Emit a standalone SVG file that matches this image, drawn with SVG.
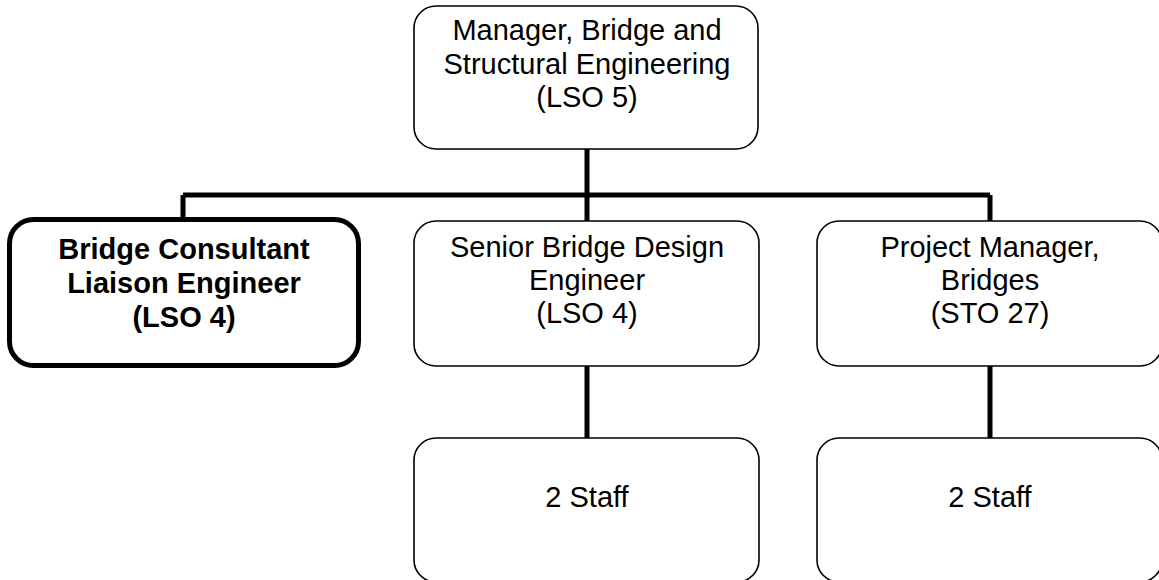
<svg xmlns="http://www.w3.org/2000/svg" width="1159" height="580" viewBox="0 0 1159 580">
<style>
.box{fill:#fff;stroke:#000;stroke-width:1.6}
.bold-box{fill:#fff;stroke:#000;stroke-width:5}
.t{font-family:"Liberation Sans",Arial,sans-serif;font-size:29px;fill:#000;text-anchor:middle}
.b{font-weight:bold}
.c{fill:none;stroke:#000;stroke-width:5}
</style>
<rect width="1159" height="580" fill="#fff"/>
<g id="connectors">
<path class="c" d="M587 149 V195 M183 195 H990 M183 195 V220 M587 195 V221 M990 195 V221"/>
<path class="c" d="M587 366 V438 M990 366 V438"/>
</g>
<g id="manager">
<rect class="box" x="414" y="6" width="344" height="143" rx="22"/>
<text class="t" x="587" y="40">Manager, Bridge and</text>
<text class="t" x="587" y="74">Structural Engineering</text>
<text class="t" x="587" y="107">(LSO 5)</text>
</g>
<g id="liaison">
<rect class="bold-box" x="9.5" y="219.5" width="349" height="146" rx="24"/>
<text class="t b" x="184" y="259">Bridge Consultant</text>
<text class="t b" x="184" y="293">Liaison Engineer</text>
<text class="t b" x="184" y="327">(LSO 4)</text>
</g>
<g id="senior">
<rect class="box" x="414" y="221" width="345" height="145" rx="22"/>
<text class="t" x="587" y="257">Senior Bridge Design</text>
<text class="t" x="587" y="290">Engineer</text>
<text class="t" x="587" y="323">(LSO 4)</text>
</g>
<g id="project">
<rect class="box" x="817" y="221" width="345" height="145" rx="22"/>
<text class="t" x="990" y="257">Project Manager,</text>
<text class="t" x="990" y="290">Bridges</text>
<text class="t" x="990" y="323">(STO 27)</text>
</g>
<g id="staff1">
<rect class="box" x="414" y="438" width="345" height="144" rx="22"/>
<text class="t" x="587" y="507">2 Staff</text>
</g>
<g id="staff2">
<rect class="box" x="817" y="438" width="345" height="144" rx="22"/>
<text class="t" x="990" y="507">2 Staff</text>
</g>
</svg>
